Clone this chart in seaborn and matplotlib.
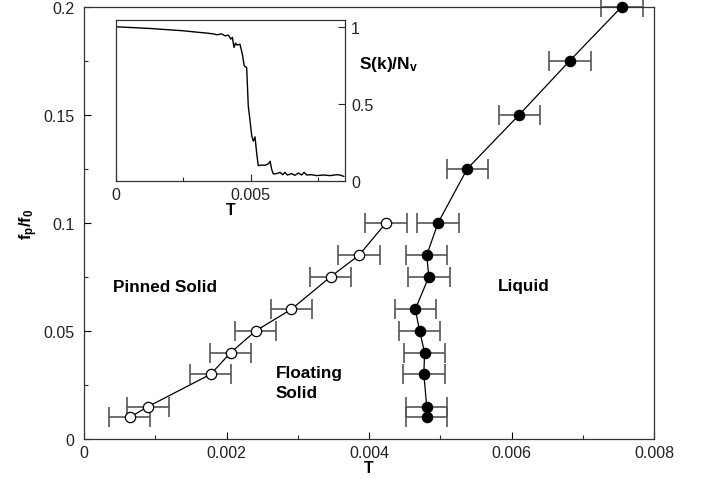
import matplotlib
matplotlib.use("Agg")
import matplotlib.pyplot as plt
import matplotlib.ticker as mticker
import seaborn as sns

# pinned solid -> floating solid boundary (open circles)
t_pin = [0.00064, 0.00090, 0.00178, 0.00206, 0.00241, 0.00291, 0.00346, 0.00386, 0.00424]
f_pin = [0.01, 0.015, 0.03, 0.04, 0.05, 0.06, 0.075, 0.085, 0.1]

# melting line (filled circles)
t_melt = [0.00481, 0.00481, 0.00477, 0.00478, 0.00471, 0.00465, 0.00484, 0.00481,
          0.00497, 0.00538, 0.00611, 0.00682, 0.00755]
f_melt = [0.01, 0.015, 0.03, 0.04, 0.05, 0.06, 0.075, 0.085,
          0.1, 0.125, 0.15, 0.175, 0.2]
t_err = 0.00029

# inset: S(k)/N_v against T
t_sk = [0.0, 0.00126, 0.0025, 0.00312, 0.00337, 0.00361, 0.00374, 0.00392, 0.00405,
        0.00417, 0.00426, 0.00432, 0.00438, 0.00444, 0.0045, 0.0046, 0.00469,
        0.00476, 0.00485, 0.00491, 0.00497, 0.00504, 0.0051, 0.00516, 0.00522,
        0.00528, 0.00541, 0.00553, 0.00565, 0.00572, 0.00578, 0.00584, 0.00596,
        0.00609, 0.00619, 0.00627, 0.00636, 0.00652, 0.00664, 0.00677, 0.00689,
        0.00698, 0.00708, 0.00726, 0.00745, 0.0077, 0.00794, 0.00819, 0.00831, 0.00846]
sk = [1.0, 0.989, 0.974, 0.963, 0.959, 0.954, 0.948, 0.954, 0.941,
      0.946, 0.92, 0.931, 0.866, 0.894, 0.881, 0.887, 0.822,
      0.746, 0.735, 0.485, 0.398, 0.289, 0.257, 0.285, 0.181,
      0.098, 0.102, 0.1, 0.109, 0.126, 0.072, 0.044, 0.046,
      0.054, 0.039, 0.054, 0.037, 0.046, 0.035, 0.05, 0.037,
      0.054, 0.037, 0.039, 0.033, 0.037, 0.033, 0.039, 0.037, 0.028]

sns.set_theme(style="ticks")
plt.rcParams["font.family"] = ["Liberation Sans", "DejaVu Sans"]
plt.rcParams["mathtext.fontset"] = "custom"
plt.rcParams["mathtext.rm"] = "Liberation Sans"
plt.rcParams["mathtext.bf"] = "Liberation Sans:bold"
plt.rcParams["xtick.direction"] = "in"
plt.rcParams["ytick.direction"] = "in"
plt.rcParams["text.color"] = "black"
plt.rcParams["axes.labelcolor"] = "black"

fig = plt.figure(figsize=(7.01, 4.85), dpi=100)
ax = fig.add_axes([84 / 701, 1 - 440 / 485, 570 / 701, 432.5 / 485])

err_kw = dict(fmt="none", ecolor="#555555", elinewidth=1.2, capsize=7,
              capthick=1.2, zorder=2, clip_on=False)
ax.errorbar(t_pin, f_pin, xerr=t_err, **err_kw)
ax.errorbar(t_melt, f_melt, xerr=t_err, **err_kw)

sns.lineplot(x=t_pin, y=f_pin, sort=False, estimator=None, color="black",
             linewidth=0.9, ax=ax, zorder=3)
sns.lineplot(x=t_melt, y=f_melt, sort=False, estimator=None, color="black",
             linewidth=0.9, ax=ax, zorder=3)
sns.scatterplot(x=t_pin, y=f_pin, marker="o", s=55, color="white",
                edgecolor="black", linewidth=0.9, ax=ax, zorder=4, clip_on=False)
sns.scatterplot(x=t_melt, y=f_melt, marker="o", s=55, color="black",
                edgecolor="black", linewidth=0.9, ax=ax, zorder=4, clip_on=False)

ax.set_xlim(0, 0.008)
ax.set_ylim(0, 0.2)
ax.xaxis.set_major_locator(mticker.MultipleLocator(0.002))
ax.xaxis.set_minor_locator(mticker.MultipleLocator(0.001))
ax.yaxis.set_major_locator(mticker.MultipleLocator(0.05))
ax.yaxis.set_minor_locator(mticker.MultipleLocator(0.025))
ax.xaxis.set_major_formatter(mticker.FuncFormatter(lambda v, p: f"{v:g}"))
ax.yaxis.set_major_formatter(mticker.FuncFormatter(lambda v, p: f"{v:g}"))
ax.tick_params(which="major", length=5, width=0.8, labelsize=11.5, colors="black")
ax.tick_params(axis="y", pad=7)
ax.tick_params(axis="x", pad=4.5)
ax.tick_params(which="minor", length=3, width=0.8)
ax.tick_params(labelcolor="#222222")
for sp in ax.spines.values():
    sp.set_linewidth(0.9)
    sp.set_color("#333333")
ax.set_xlabel("T", fontweight="bold", fontsize=11.5, labelpad=0)
ax.set_ylabel(r"$\mathbf{f_p/f_0}$", fontsize=12, labelpad=2)

txt_kw = dict(fontweight="bold", fontsize=12.3, ha="left", va="center")
ax.text(0.00041, 0.0703, "Pinned Solid", **txt_kw)
ax.text(0.00269, 0.0261, "Floating\nSolid", linespacing=1.43, **txt_kw)
ax.text(0.00581, 0.0712, "Liquid", **txt_kw)

# inset
ax_in = fig.add_axes([116 / 701, 1 - 181.7 / 485, 229 / 701, 161 / 485])
sns.lineplot(x=t_sk, y=sk, sort=False, estimator=None, color="black",
             linewidth=1.0, ax=ax_in)
ax_in.set_xlim(0, 0.0085)
ax_in.set_ylim(0, 1.046)
ax_in.xaxis.set_major_locator(mticker.MultipleLocator(0.005))
ax_in.xaxis.set_minor_locator(mticker.MultipleLocator(0.0025))
ax_in.yaxis.set_major_locator(mticker.MultipleLocator(0.5))
ax_in.xaxis.set_major_formatter(mticker.FuncFormatter(lambda v, p: f"{v:g}"))
ax_in.yaxis.set_major_formatter(mticker.FuncFormatter(lambda v, p: f"{v:g}"))
ax_in.yaxis.tick_right()
ax_in.tick_params(which="major", length=5, width=0.8, labelsize=11.5, pad=4.5)
ax_in.tick_params(which="minor", length=3, width=0.8)
ax_in.tick_params(labelcolor="#222222")
for sp in ax_in.spines.values():
    sp.set_linewidth(0.9)
    sp.set_color("#333333")
ax_in.set_xlabel("T", fontweight="bold", fontsize=11.5)
ax_in.xaxis.set_label_coords(0.5, -0.176)
ax_in.xaxis.label.set_va("center")
ax_in.yaxis.set_label_position("right")
ax_in.set_ylabel(r"$\mathbf{S(k)/N_v}$", fontsize=12.5, rotation=0)
ax_in.yaxis.set_label_coords(1.19, 0.725)
ax_in.yaxis.label.set_va("center")
ax_in.yaxis.label.set_ha("center")

fig.savefig("out.png", dpi=100)
